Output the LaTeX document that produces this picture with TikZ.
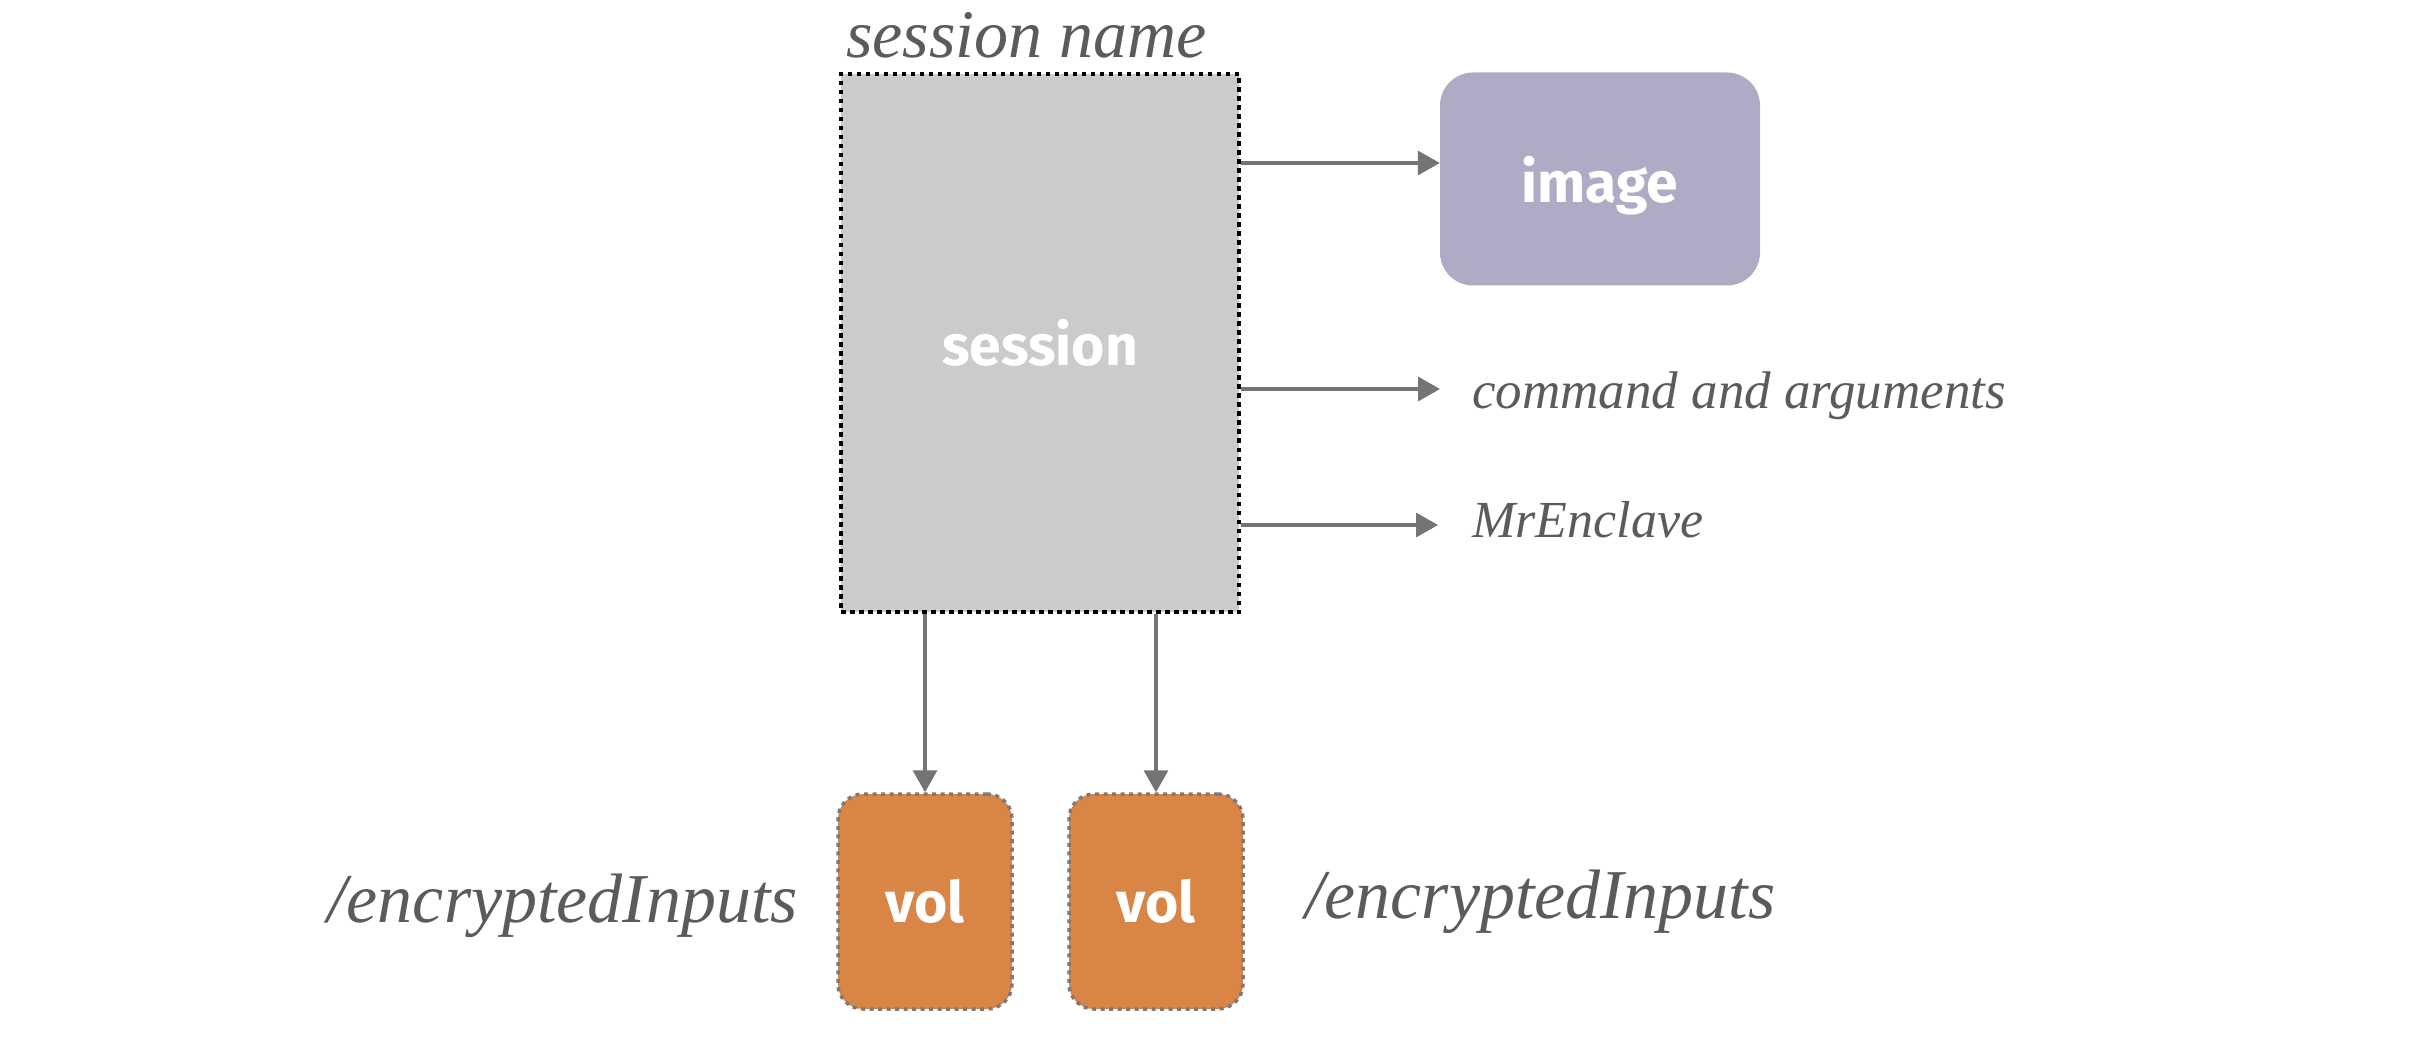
\documentclass[tikz,border=0pt]{standalone}
\usepackage{fontspec}
\setmainfont{Liberation Serif}
\setsansfont{Fira Sans}
\usetikzlibrary{arrows.meta}
\definecolor{sessgray}{HTML}{CBCBCB}
\definecolor{imgpurple}{HTML}{B0AAC4}
\definecolor{volorange}{HTML}{D98546}
\definecolor{arrgray}{HTML}{747474}
\definecolor{txtgray}{HTML}{5B5B5B}
\definecolor{volborder}{HTML}{7A7A7A}
\tikzset{
  boxfont/.style={font=\sffamily\bfseries\fontsize{57}{60}\selectfont},
  sessbox/.style={draw=black, fill=sessgray, line width=4.5pt, dash pattern=on 4.5pt off 4.5pt,
    minimum width=398pt, minimum height=538pt, inner sep=0pt, text=white, boxfont},
  imgbox/.style={fill=imgpurple, rounded corners=33pt, minimum width=320pt, minimum height=213pt,
    inner sep=0pt, text=white, text depth=0pt, boxfont},
  volbox/.style={draw=volborder, fill=volorange, line width=3.5pt, dash pattern=on 4pt off 4.5pt,
    rounded corners=25pt, minimum width=174pt, minimum height=215pt, inner sep=0pt,
    text=white, boxfont},
  itlabel/.style={text=txtgray, inner sep=0pt, font=\itshape},
  conn/.style={draw=arrgray, line width=3.5pt, -{Triangle[length=22pt,width=24pt]}},
}
\begin{document}
\begin{tikzpicture}[x=1pt,y=-1pt]
\useasboundingbox (0,0) rectangle (2412,1056);
\node[sessbox] (sess) at (1040,343) {session};
\node[itlabel, anchor=base west, font=\itshape\fontsize{68}{70}\selectfont] (sname) at (846,58) {session name};
\node[imgbox] (img) at (1600,179) {image};
\node[volbox] (v1) at (925,901.5) {vol};
\node[volbox] (v2) at (1156,901.5) {vol};
\coordinate (c1) at (1441,163);
\coordinate (c2) at (1440,389);
\coordinate (c3) at (1438,525);
\node[itlabel, anchor=base west, font=\itshape\fontsize{53}{55}\selectfont] (cmd) at (1472,408) {command and arguments};
\node[itlabel, anchor=base west, font=\itshape\fontsize{52}{54}\selectfont] (mre) at (1472,537) {MrEnclave};
\node[itlabel, anchor=base east, font=\itshape\fontsize{70}{72}\selectfont] (enc1) at (798,922) {/encryptedInputs};
\node[itlabel, anchor=base west, font=\itshape\fontsize{70}{72}\selectfont] (enc2) at (1305,918) {/encryptedInputs};
\draw[conn] (sess.east |- c1) -- (img.west |- c1);
\draw[conn] (sess.east |- c2) -- (c2);
\draw[conn] (sess.east |- c3) -- (c3);
\draw[conn] (sess.south -| v1.north) -- (v1.north);
\draw[conn] (sess.south -| v2.north) -- (v2.north);
\end{tikzpicture}
\end{document}
